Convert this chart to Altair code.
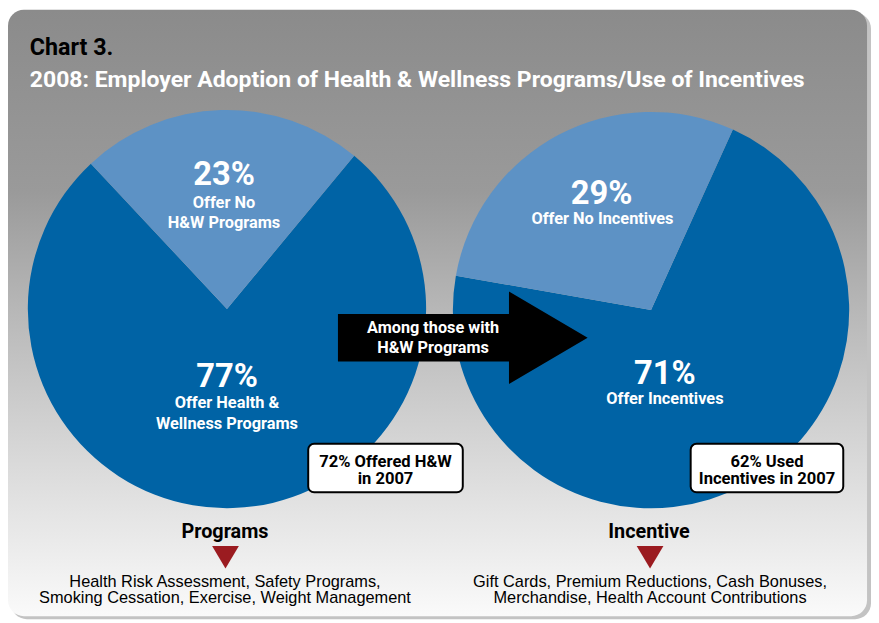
import math
import altair as alt
import pandas as pd

# ---------------- data ----------------
programs_labels = ["Offer Health & Wellness Programs", "Offer No H&W Programs"]
programs_values = [77, 23]
incentive_labels = ["Offer Incentives", "Offer No Incentives"]
incentive_values = [71, 29]

title_line = "Chart 3."
subtitle_line = "2008: Employer Adoption of Health & Wellness Programs/Use of Incentives"
arrow_lines = ["Among those with", "H&W Programs"]
box1_lines = ["72% Offered H&W", "in 2007"]
box2_lines = ["62% Used", "Incentives in 2007"]
programs_caption = "Programs"
incentive_caption = "Incentive"
programs_list = ["Health Risk Assessment, Safety Programs,",
                 "Smoking Cessation, Exercise, Weight Management"]
incentive_list = ["Gift Cards, Premium Reductions, Cash Bonuses,",
                  "Merchandise, Health Account Contributions"]
pie_sub_lines_1 = [["Offer Health &", "Wellness Programs"], ["Offer No", "H&W Programs"]]
pie_sub_lines_2 = [["Offer Incentives"], ["Offer No Incentives"]]

# ---------------- layout / style ----------------
W, H = 871, 613
OFF = 8  # page margin: page coords -> chart coords
DARK = "#0063a5"
LIGHT = "#5d92c5"
RED = "#9b1b20"
NARROW = "Roboto, Liberation Sans, sans-serif"
REG = "Liberation Sans, Arial, sans-serif"


def c(v):
    return v - OFF


one = pd.DataFrame({"k": [0]})

# background card with shadow
shadow = alt.Chart(one).mark_rect(cornerRadius=16, color="#7a7a7a", opacity=0.45).encode(
    x=alt.value(c(11)), x2=alt.value(c(879)), y=alt.value(c(10)), y2=alt.value(c(622)))
card = alt.Chart(one).mark_rect(
    cornerRadius=16,
    fill=alt.Gradient(gradient="linear", x1=0, x2=0, y1=0, y2=1,
                      stops=[alt.GradientStop(color="#8b8b8b", offset=0),
                             alt.GradientStop(color="#9a9a9a", offset=0.3),
                             alt.GradientStop(color="#b8b8b8", offset=0.5),
                             alt.GradientStop(color="#dadada", offset=0.75),
                             alt.GradientStop(color="#fafafa", offset=1)]),
).encode(x=alt.value(c(8)), x2=alt.value(c(875)), y=alt.value(c(7)), y2=alt.value(c(619)))


def pie(labels, values, cx, cy, r, start_deg):
    df = pd.DataFrame({"label": labels, "value": values, "o": [0, 1],
                       "kind": ["yes", "no"]})
    s = math.radians(start_deg)
    return alt.Chart(df).mark_arc(outerRadius=r, stroke=None).encode(
        theta=alt.Theta("value:Q", stack=True,
                        scale=alt.Scale(range=[s, s + 2 * math.pi])),
        order=alt.Order("o:Q"),
        color=alt.Color("kind:N", scale=alt.Scale(domain=["yes", "no"], range=[DARK, LIGHT]),
                        legend=None),
        x=alt.value(c(cx)), y=alt.value(c(cy)),
    )


pie1 = pie(programs_labels, programs_values, 229, 309, 201, 39.7)
pie2 = pie(incentive_labels, incentive_values, 657, 310, 200, 24.4)

# arrow (custom symbol path within [-1,1] box)
arrow_path = "M -1 -0.19 L 0.37 -0.19 L 0.37 -0.37 L 1 0 L 0.37 0.37 L 0.37 0.19 L -1 0.19 Z"
arrow = alt.Chart(one).mark_point(shape=arrow_path, filled=True, color="black",
                                  opacity=1, size=252 * 252).encode(
    x=alt.value(c(467)), y=alt.value(c(338)))

# boxes
boxes_df = pd.DataFrame({"x": [c(311), c(697)], "x2": [c(467), c(851)],
                         "y": [c(445), c(445)], "y2": [c(494), c(494)]})
boxes = alt.Chart(boxes_df).mark_rect(cornerRadius=6, fill="white", stroke="black",
                                      strokeWidth=2).encode(
    x=alt.X("x:Q", scale=None), x2="x2:Q", y=alt.Y("y:Q", scale=None), y2="y2:Q")

# red triangles
tri_path = "M -1 -0.85 L 1 -0.85 L 0 0.85 Z"
tri_df = pd.DataFrame({"x": [c(227.5), c(656)], "y": [c(559.5), c(559.5)]})
tris = alt.Chart(tri_df).mark_point(shape=tri_path, filled=True, color=RED, opacity=1,
                                    size=27 * 27).encode(
    x=alt.X("x:Q", scale=None), y=alt.Y("y:Q", scale=None))


def texts(rows, size, color, weight="bold", font=NARROW, align="center"):
    df = pd.DataFrame(rows, columns=["t", "x", "y"])
    df["x"] = df["x"].map(c)
    df["y"] = df["y"].map(c)
    return alt.Chart(df).mark_text(fontSize=size, color=color, fontWeight=weight, font=font,
                                   align=align, baseline="alphabetic").encode(
        x=alt.X("x:Q", scale=None), y=alt.Y("y:Q", scale=None), text="t:N")


pct = texts([(f"{programs_values[1]}%", 226, 184), (f"{programs_values[0]}%", 229, 388),
             (f"{incentive_values[1]}%", 607, 203), (f"{incentive_values[0]}%", 671, 385)],
            33, "white")
pie_sub = texts([(pie_sub_lines_1[1][0], 226, 207), (pie_sub_lines_1[1][1], 226, 227),
                 (pie_sub_lines_1[0][0], 229, 409), (pie_sub_lines_1[0][1], 229, 430),
                 (pie_sub_lines_2[1][0], 608, 223), (pie_sub_lines_2[0][0], 671, 405)],
                16.5, "white")
arrow_txt = texts([(arrow_lines[0], 437, 333), (arrow_lines[1], 437, 353)], 16.4, "white")
box_txt = texts([(box1_lines[0], 389, 468), (box1_lines[1], 389, 486),
                 (box2_lines[0], 774, 468), (box2_lines[1], 774, 486)], 16.7, "black")
captions = texts([(programs_caption, 227, 540), (incentive_caption, 655, 540)], 20, "black")
lists = texts([(programs_list[0], 227, 590), (programs_list[1], 227, 606),
               (incentive_list[0], 656, 590), (incentive_list[1], 656, 606)],
              16.5, "black", weight="normal", font=REG)
title = texts([(title_line, 30, 53)], 23.5, "black", align="left")
subtitle = texts([(subtitle_line, 30, 85)], 23.2, "white", align="left")

chart = alt.layer(shadow, card, pie1, pie2, arrow, boxes, tris, pct, pie_sub, arrow_txt,
                  box_txt, captions, lists, title, subtitle).resolve_scale(
    theta="independent", color="independent").properties(
    width=W, height=H, padding=0, autosize="none", background="white"
).configure_view(stroke=None)

chart.save("out.html", embed_options={"renderer": "svg", "actions": False})
